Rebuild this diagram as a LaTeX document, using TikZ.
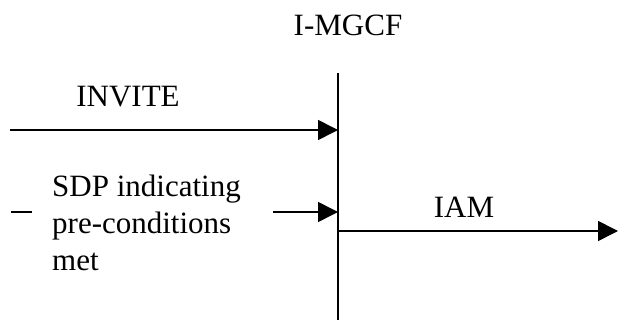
\documentclass[tikz,border=0pt]{standalone}
\usepackage{fontspec}
\setmainfont{Liberation Serif}[Ligatures=TeX]
\newfontfamily\tnrfont{Liberation Serif}
\usetikzlibrary{arrows.meta}
\begin{document}
\begin{tikzpicture}[x=1pt,y=-1pt,
  msg/.style={line width=1.6pt,-{Triangle[length=20pt,width=20pt]}},
  lbl/.style={inner sep=0pt,font=\tnrfont\fontsize{31}{37}\selectfont},
  lifeline/.style={line width=1.6pt}]
\useasboundingbox (0,0) rectangle (618,320);
% lifeline
\node[lbl,anchor=base] (title) at (348,36) {I-MGCF};
\coordinate (ltop) at (338,73);
\coordinate (lbot) at (338,320);
\draw[lifeline] (ltop) -- (lbot);
% INVITE
\node[lbl,anchor=base] (invite) at (128,107) {INVITE};
\coordinate (invS) at (10,130);
\coordinate (invE) at (338,130);
\draw[msg] (invS) -- (invE);
% SDP
\node[lbl,anchor=base west,align=left] (sdp) at (52,271) {SDP indicating\\pre-conditions\\met};
\coordinate (dashS) at (11,212);
\coordinate (dashE) at (32,212);
\draw[line width=1.6pt] (dashS) -- (dashE);
\coordinate (sdpS) at (273,212);
\coordinate (sdpE) at (338,212);
\draw[msg] (sdpS) -- (sdpE);
% IAM
\node[lbl,anchor=base] (iam) at (464,218) {IAM};
\coordinate (iamS) at (338,231);
\coordinate (iamE) at (618,231);
\draw[msg] (iamS) -- (iamE);
\end{tikzpicture}
\end{document}
